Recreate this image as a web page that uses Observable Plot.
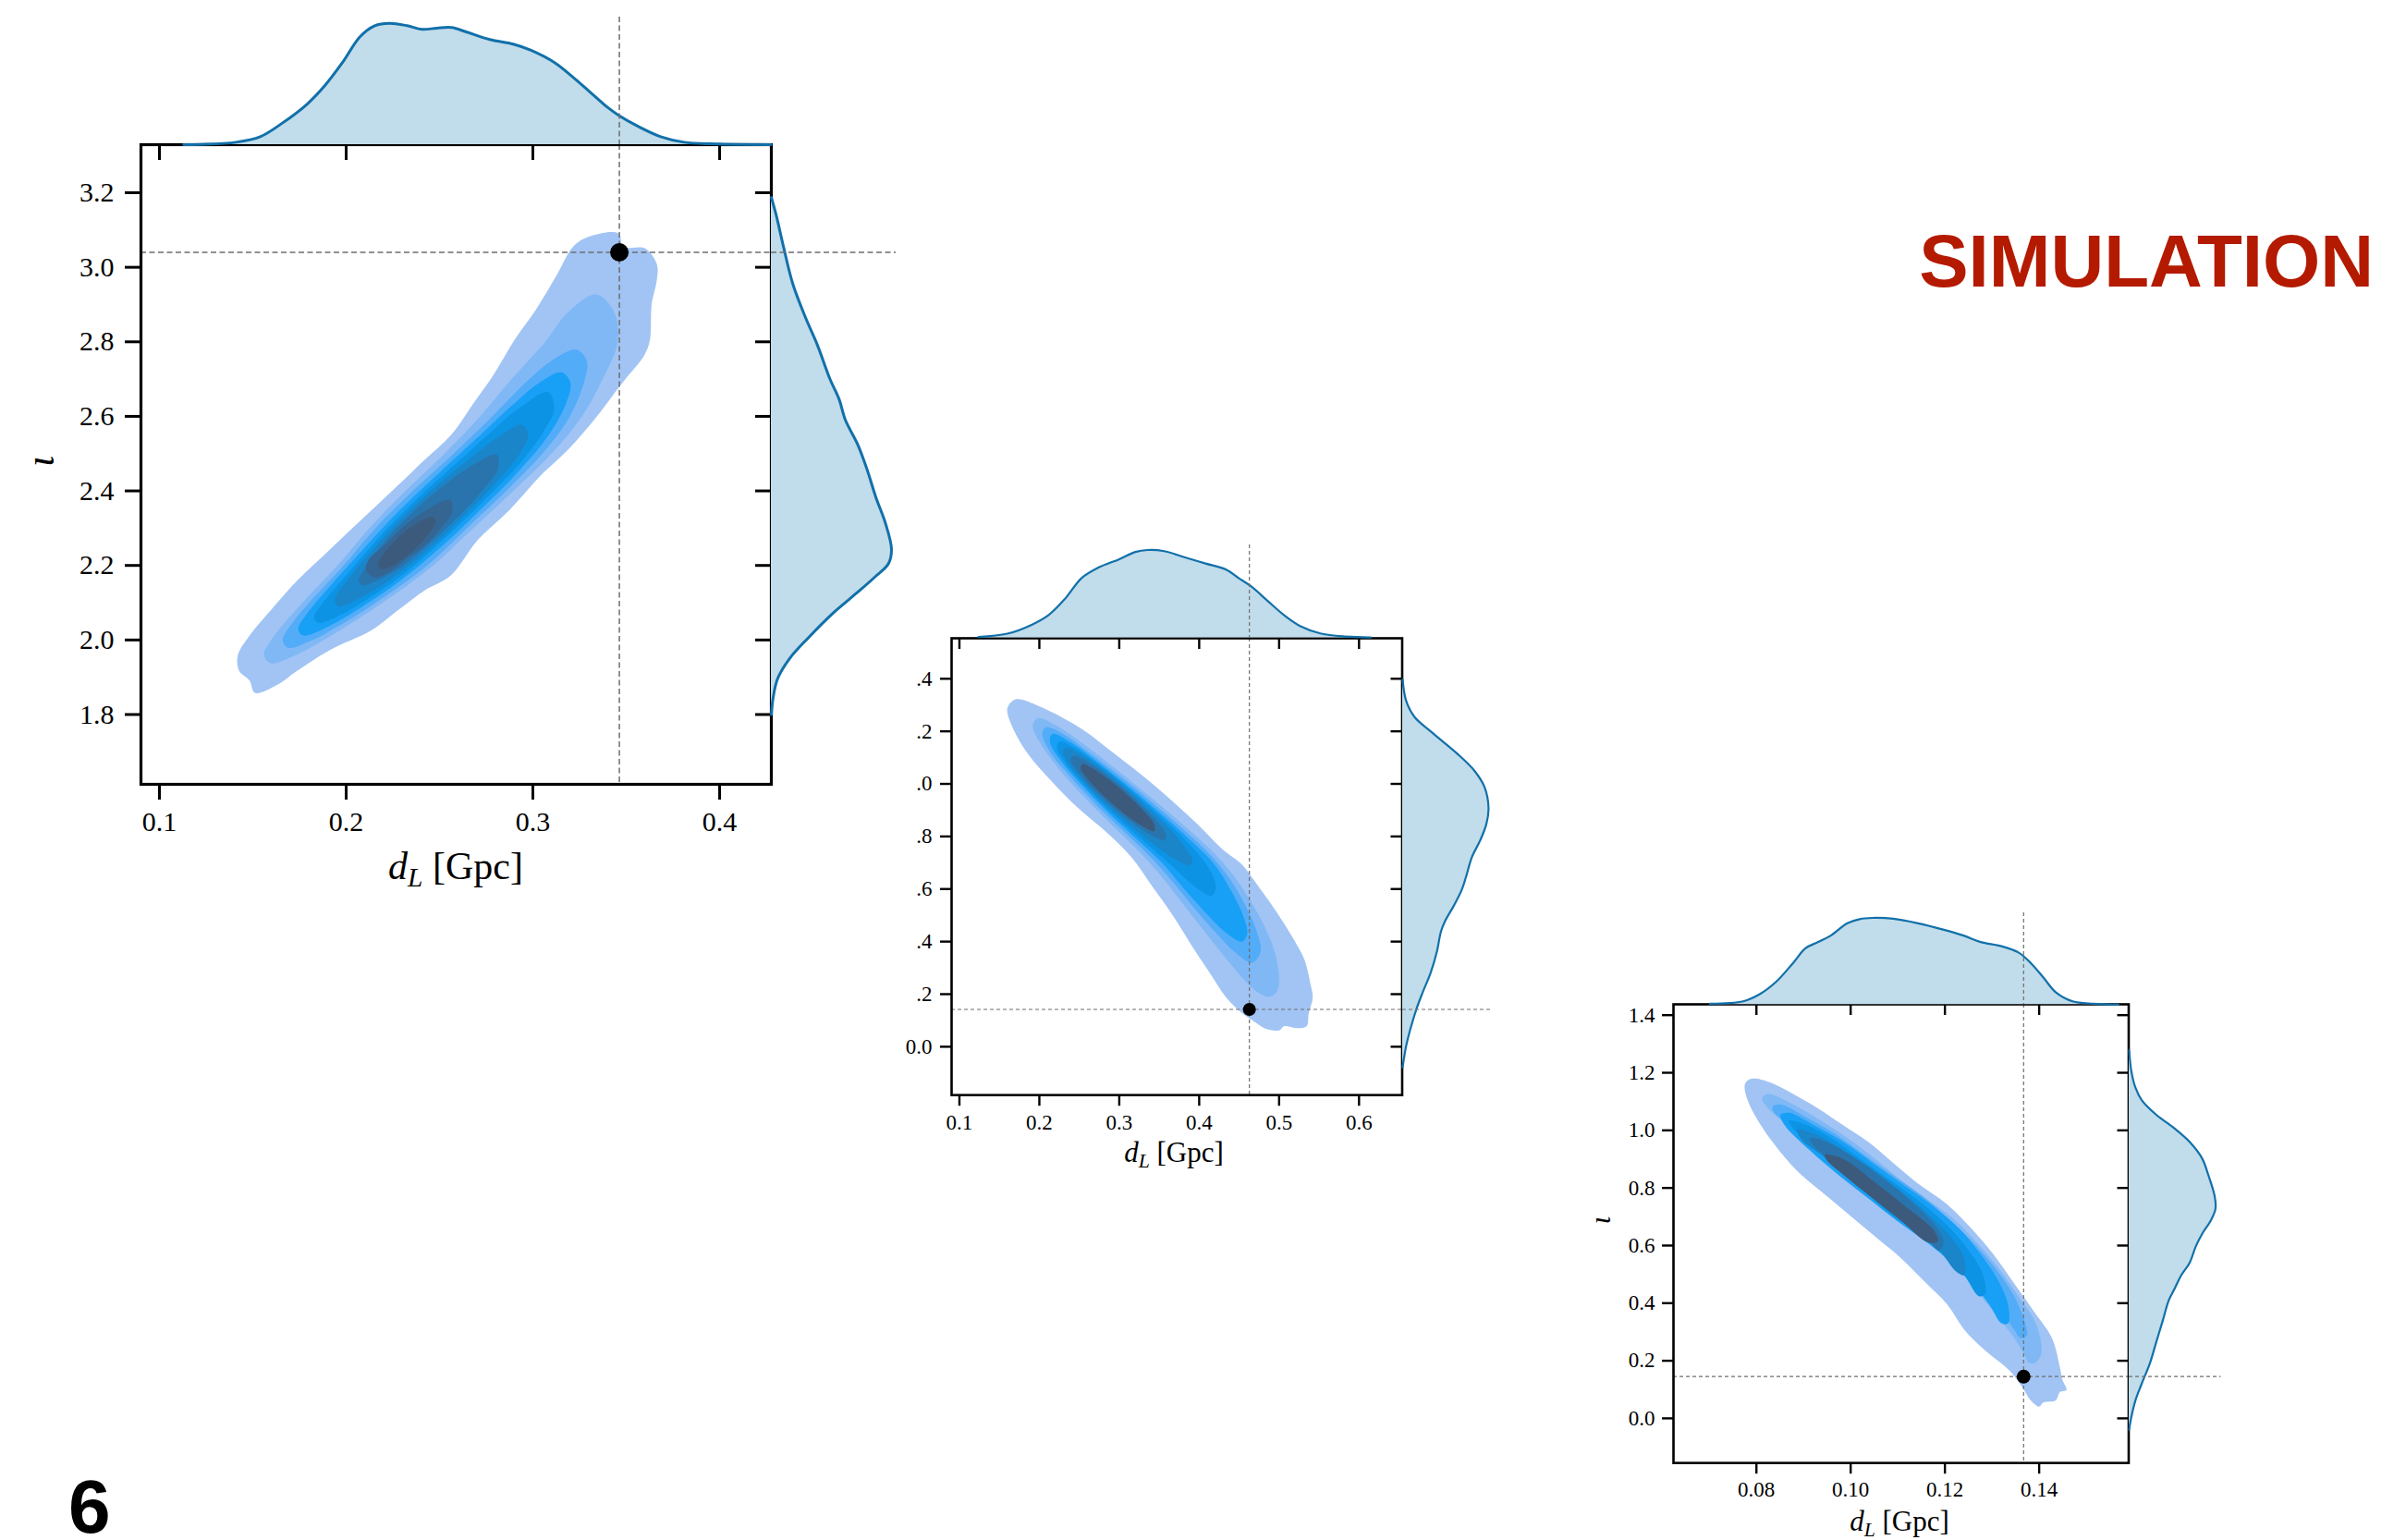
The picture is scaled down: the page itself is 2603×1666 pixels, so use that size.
<!DOCTYPE html>
<html><head><meta charset="utf-8">
<script src="https://cdn.jsdelivr.net/npm/d3@7"></script>
<script src="https://cdn.jsdelivr.net/npm/@observablehq/plot@0.6"></script>
<style>
html,body{margin:0;padding:0;background:#fff;}
#page{position:relative;width:2603px;height:1666px;overflow:hidden;background:#fff;}
#page svg{overflow:visible;}
</style></head><body><div id="page"></div>
<script>
// ---------------- DATA ----------------
// Panel 1
const p1_dL_ticks = [0.1, 0.2, 0.3, 0.4];
const p1_iota_ticks = [1.8, 2.0, 2.2, 2.4, 2.6, 2.8, 3.0, 3.2];
const p1_truth = [0.3463, 3.040];
const p1_dL_grid = [0.113,0.122,0.141,0.154,0.166,0.179,0.1885,0.198,0.2075,0.2153,0.2232,0.2327,0.2406,0.2485,0.2564,0.2643,0.2769,0.2895,0.299,0.3116,0.3211,0.3306,0.34,0.3463,0.3558,0.3684,0.381,0.4,0.4275];
const p1_dL_density = [0,0.002,0.02,0.066,0.18,0.333,0.485,0.676,0.891,0.98,1,0.98,0.95,0.96,0.965,0.929,0.866,0.828,0.777,0.676,0.561,0.434,0.307,0.238,0.155,0.066,0.02,0.005,0];
const p1_iota_grid = [3.187,3.143,3.054,2.955,2.867,2.79,2.701,2.646,2.591,2.525,2.459,2.381,2.315,2.243,2.205,2.172,2.128,2.072,2.006,1.951,1.896,1.841,1.8];
const p1_iota_density = [0,0.038,0.102,0.179,0.282,0.385,0.487,0.564,0.615,0.718,0.795,0.872,0.948,1,0.975,0.872,0.718,0.513,0.308,0.154,0.052,0.013,0];
const p1_contours = [
 [[0.1426,1.918],[0.1420,1.959],[0.1483,2.012],[0.1597,2.080],[0.1739,2.160],[0.1909,2.241],[0.2080,2.322],[0.2250,2.402],[0.2420,2.483],[0.2562,2.550],[0.2676,2.631],[0.2790,2.712],[0.2903,2.806],[0.3017,2.887],[0.3130,2.981],[0.3215,3.055],[0.3300,3.082],[0.3457,3.091],[0.3485,3.055],[0.3599,3.051],[0.3664,3.008],[0.3664,2.967],[0.3636,2.900],[0.3627,2.806],[0.3599,2.766],[0.3471,2.685],[0.3329,2.591],[0.3187,2.510],[0.3045,2.443],[0.2875,2.349],[0.2704,2.268],[0.2562,2.174],[0.2420,2.133],[0.2278,2.080],[0.2136,2.026],[0.1909,1.972],[0.1739,1.918],[0.1625,1.878],[0.1511,1.858],[0.1483,1.891]],
 [[0.1594,1.938],[0.1560,1.96],[0.1599,2.0],[0.1765,2.1],[0.1954,2.2],[0.2123,2.3],[0.2318,2.4],[0.2526,2.5],[0.2717,2.6],[0.2886,2.7],[0.3066,2.8],[0.3189,2.88],[0.334,2.927],[0.3435,2.88],[0.3454,2.8],[0.3374,2.7],[0.3263,2.6],[0.3100,2.5],[0.2896,2.4],[0.2681,2.3],[0.2466,2.2],[0.2195,2.1],[0.1881,2.0],[0.1732,1.96]],
 [[0.169,1.979],[0.166,2.0],[0.1718,2.05],[0.1801,2.1],[0.1986,2.2],[0.2157,2.3],[0.2357,2.4],[0.2575,2.5],[0.2782,2.6],[0.2981,2.7],[0.3102,2.75],[0.3233,2.779],[0.3288,2.75],[0.3279,2.7],[0.3198,2.6],[0.3051,2.5],[0.2857,2.4],[0.2647,2.3],[0.2434,2.2],[0.2159,2.1],[0.2002,2.05],[0.182,2.0]],
 [[0.1769,2.012],[0.1744,2.03],[0.179,2.07],[0.1924,2.15],[0.2103,2.25],[0.229,2.35],[0.2501,2.45],[0.2719,2.55],[0.289,2.63],[0.3033,2.69],[0.3153,2.718],[0.3201,2.69],[0.3174,2.63],[0.3085,2.55],[0.2919,2.45],[0.272,2.35],[0.2509,2.25],[0.2266,2.15],[0.2026,2.07],[0.188,2.03]],
 [[0.185,2.046],[0.1829,2.06],[0.1876,2.1],[0.2012,2.18],[0.2185,2.28],[0.2382,2.38],[0.2603,2.48],[0.278,2.56],[0.2922,2.62],[0.3081,2.665],[0.3114,2.62],[0.3058,2.56],[0.2941,2.48],[0.275,2.38],[0.2543,2.28],[0.2316,2.18],[0.2084,2.1],[0.1939,2.06]],
 [[0.1956,2.09],[0.194,2.11],[0.2006,2.16],[0.2138,2.24],[0.2304,2.33],[0.2498,2.42],[0.2696,2.5],[0.2829,2.55],[0.2943,2.577],[0.2975,2.55],[0.293,2.5],[0.2798,2.42],[0.2624,2.33],[0.2434,2.24],[0.223,2.16],[0.2066,2.11]],
 [[0.2089,2.147],[0.2067,2.16],[0.2113,2.2],[0.2199,2.26],[0.2329,2.33],[0.2486,2.4],[0.2648,2.46],[0.2807,2.497],[0.2814,2.46],[0.2728,2.4],[0.2599,2.33],[0.2451,2.26],[0.2307,2.2],[0.2169,2.16]],
 [[0.2150,2.168],[0.2105,2.19],[0.2128,2.22],[0.2197,2.25],[0.2298,2.3],[0.2403,2.34],[0.2558,2.376],[0.2565,2.34],[0.2506,2.3],[0.2415,2.25],[0.2326,2.22],[0.2255,2.19]],
 [[0.2187,2.19],[0.2171,2.2],[0.22,2.23],[0.225,2.26],[0.2314,2.29],[0.2387,2.315],[0.2464,2.33],[0.2479,2.315],[0.245,2.29],[0.24,2.26],[0.2336,2.23],[0.2249,2.2]]
];

// Panel 2
const p2_dL_ticks = [0.1, 0.2, 0.3, 0.4, 0.5, 0.6];
const p2_iota_ticks = [0.0, 0.2, 0.4, 0.6, 0.8, 1.0, 1.2, 1.4];
const p2_truth = [0.4628, 0.142];
const p2_dL_grid = [0.1237,0.16,0.191,0.2116,0.2323,0.2529,0.2736,0.2994,0.3201,0.3356,0.3563,0.3822,0.408,0.4338,0.4493,0.4648,0.4854,0.5061,0.5268,0.5527,0.5837,0.6146];
const p2_dL_density = [0.01,0.047,0.151,0.259,0.446,0.681,0.799,0.893,0.978,1,0.987,0.916,0.846,0.776,0.681,0.587,0.423,0.259,0.132,0.047,0.014,0.004];
const p2_iota_grid = [1.397,1.318,1.256,1.193,1.114,1.052,0.989,0.910,0.8475,0.785,0.722,0.643,0.596,0.5336,0.4786,0.439,0.361,0.2824,0.204,0.141,0.0627,0.0,-0.047,-0.078];
const p2_iota_density = [0,0.039,0.135,0.351,0.639,0.831,0.952,1,0.975,0.903,0.807,0.735,0.687,0.591,0.495,0.447,0.398,0.327,0.23,0.158,0.086,0.039,0.014,0];
const p2_contours = [
 [[0.1599,1.287],[0.1677,1.318],[0.1754,1.322],[0.2116,1.279],[0.2529,1.209],[0.2942,1.114],[0.3304,1.028],[0.3665,0.934],[0.3975,0.848],[0.4285,0.753],[0.4543,0.691],[0.4698,0.628],[0.4956,0.518],[0.5215,0.392],[0.5318,0.330],[0.5395,0.235],[0.5421,0.188],[0.5370,0.126],[0.5344,0.078],[0.5215,0.071],[0.5060,0.078],[0.5008,0.063],[0.4853,0.066],[0.4698,0.094],[0.4543,0.126],[0.4337,0.188],[0.4130,0.282],[0.3923,0.377],[0.3665,0.502],[0.3407,0.612],[0.3149,0.722],[0.2839,0.816],[0.2477,0.910],[0.2167,1.005],[0.1857,1.114],[0.1651,1.224]],
 [[0.198,1.25],[0.2225,1.22],[0.2559,1.15],[0.2983,1.05],[0.3389,0.95],[0.3778,0.85],[0.4142,0.75],[0.4433,0.65],[0.4651,0.55],[0.483,0.45],[0.4955,0.35],[0.5,0.25],[0.4971,0.21],[0.4874,0.19],[0.4721,0.21],[0.4576,0.25],[0.4297,0.35],[0.4038,0.45],[0.3779,0.55],[0.3521,0.65],[0.3224,0.75],[0.2886,0.85],[0.2561,0.95],[0.2263,1.05],[0.2021,1.15],[0.1919,1.22]],
 [[0.2083,1.216],[0.2298,1.19],[0.262,1.12],[0.3009,1.03],[0.341,0.93],[0.379,0.83],[0.414,0.73],[0.4402,0.63],[0.4591,0.53],[0.4731,0.43],[0.4768,0.36],[0.4661,0.32],[0.4446,0.36],[0.4219,0.43],[0.3931,0.53],[0.366,0.63],[0.3362,0.73],[0.3018,0.83],[0.2682,0.93],[0.2377,1.03],[0.2138,1.12],[0.2036,1.19]],
 [[0.2164,1.19],[0.2384,1.16],[0.2703,1.09],[0.308,1.0],[0.347,0.9],[0.3842,0.8],[0.4173,0.7],[0.4387,0.6],[0.4549,0.5],[0.4601,0.43],[0.4537,0.40],[0.4349,0.43],[0.4111,0.5],[0.3813,0.6],[0.3533,0.7],[0.3182,0.8],[0.2834,0.9],[0.2516,1.0],[0.2265,1.09],[0.2132,1.16]],
 [[0.2256,1.161],[0.2426,1.14],[0.2712,1.08],[0.3048,1.0],[0.3357,0.92],[0.3647,0.84],[0.3909,0.76],[0.4118,0.68],[0.4207,0.61],[0.4158,0.575],[0.3943,0.61],[0.3688,0.68],[0.3389,0.76],[0.3089,0.84],[0.2805,0.92],[0.2548,1.0],[0.2326,1.08],[0.2218,1.14]],
 [[0.2329,1.138],[0.248,1.12],[0.2771,1.06],[0.3098,0.98],[0.3392,0.9],[0.3658,0.82],[0.3868,0.74],[0.3918,0.71],[0.3878,0.69],[0.372,0.71],[0.3566,0.74],[0.3222,0.82],[0.2912,0.9],[0.264,0.98],[0.2407,1.06],[0.2292,1.12]],
 [[0.2427,1.107],[0.2574,1.09],[0.282,1.04],[0.3065,0.98],[0.3278,0.92],[0.3465,0.86],[0.3583,0.81],[0.3565,0.785],[0.3369,0.81],[0.3127,0.86],[0.2884,0.92],[0.2673,0.98],[0.2496,1.04],[0.2394,1.09]],
 [[0.2536,1.075],[0.2662,1.06],[0.2939,1.0],[0.313,0.95],[0.3296,0.9],[0.3432,0.85],[0.344,0.82],[0.3232,0.85],[0.3008,0.9],[0.282,0.95],[0.2657,1.0],[0.2516,1.06]]
];

// Panel 3
const p3_dL_ticks = [0.08, 0.10, 0.12, 0.14];
const p3_iota_ticks = [0.0, 0.2, 0.4, 0.6, 0.8, 1.0, 1.2, 1.4];
const p3_truth = [0.1367, 0.145];
const p3_dL_grid = [0.0701,0.0772,0.0807,0.0842,0.0878,0.0904,0.0931,0.0957,0.0993,0.1019,0.1046,0.109,0.1143,0.1196,0.1241,0.1276,0.132,0.1356,0.1382,0.1409,0.1435,0.1471,0.1515,0.1568];
const p3_dL_density = [0.01,0.038,0.12,0.264,0.481,0.649,0.722,0.793,0.938,0.986,1,0.99,0.938,0.866,0.793,0.722,0.673,0.601,0.481,0.312,0.144,0.038,0.01,0];
const p3_iota_grid = [1.278,1.206,1.148,1.105,1.054,1.011,0.960,0.902,0.844,0.772,0.728,0.685,0.641,0.598,0.540,0.497,0.453,0.410,0.337,0.265,0.193,0.120,0.0625,0.0045,-0.039];
const p3_iota_density = [0,0.025,0.073,0.145,0.314,0.507,0.7,0.846,0.918,0.99,1,0.942,0.846,0.773,0.7,0.604,0.531,0.459,0.387,0.314,0.242,0.145,0.073,0.025,0];
const p3_contours = [
 [[0.0776,1.1626],[0.0785,1.177],[0.0798,1.180],[0.0834,1.163],[0.0878,1.126],[0.0931,1.076],[0.0984,1.018],[0.1037,0.960],[0.1090,0.8875],[0.1143,0.815],[0.1205,0.743],[0.1258,0.656],[0.1303,0.569],[0.1347,0.468],[0.1391,0.366],[0.1427,0.279],[0.1444,0.178],[0.1449,0.135],[0.1458,0.098],[0.1444,0.091],[0.1435,0.062],[0.1409,0.055],[0.1400,0.041],[0.1382,0.062],[0.1365,0.106],[0.1338,0.164],[0.1285,0.236],[0.1241,0.308],[0.1205,0.395],[0.1161,0.468],[0.1108,0.5545],[0.1055,0.627],[0.1002,0.699],[0.0949,0.772],[0.0887,0.8585],[0.0834,0.960],[0.0789,1.076],[0.0776,1.134]],
 [[0.0812,1.112],[0.0825,1.126],[0.0878,1.090],[0.0931,1.0395],[0.0993,0.974],[0.1046,0.909],[0.1099,0.837],[0.1152,0.772],[0.1214,0.699],[0.1267,0.612],[0.1312,0.5256],[0.1356,0.424],[0.1391,0.337],[0.1404,0.265],[0.1404,0.2215],[0.1391,0.1925],[0.1378,0.1925],[0.1369,0.2215],[0.1347,0.279],[0.1320,0.337],[0.1276,0.424],[0.1232,0.511],[0.1179,0.598],[0.1126,0.670],[0.1064,0.743],[0.1002,0.830],[0.0940,0.916],[0.0878,1.003],[0.0825,1.076]],
 [[0.0834,1.083],[0.0851,1.090],[0.0904,1.047],[0.0966,0.989],[0.1028,0.916],[0.1090,0.844],[0.1152,0.772],[0.1214,0.685],[0.1267,0.598],[0.1312,0.511],[0.1347,0.424],[0.1369,0.337],[0.1374,0.287],[0.1360,0.279],[0.1347,0.308],[0.1320,0.366],[0.1276,0.453],[0.1232,0.540],[0.1179,0.612],[0.1117,0.685],[0.1055,0.757],[0.0993,0.844],[0.0931,0.931],[0.0869,1.018],[0.0838,1.061]],
 [[0.0851,1.054],[0.0869,1.061],[0.0922,1.018],[0.0984,0.960],[0.1046,0.8875],[0.1108,0.815],[0.1170,0.743],[0.1232,0.656],[0.1276,0.569],[0.1312,0.482],[0.1334,0.395],[0.1334,0.330],[0.1320,0.330],[0.1294,0.395],[0.1258,0.468],[0.1214,0.540],[0.1161,0.612],[0.1099,0.685],[0.1037,0.764],[0.0975,0.844],[0.0913,0.931],[0.0860,1.018]],
 [[0.0869,1.032],[0.0896,1.025],[0.0958,0.974],[0.1020,0.902],[0.1081,0.830],[0.1143,0.757],[0.1205,0.670],[0.1250,0.5835],[0.1281,0.497],[0.1285,0.431],[0.1272,0.424],[0.1241,0.497],[0.1197,0.569],[0.1143,0.641],[0.1081,0.714],[0.1020,0.801],[0.0958,0.8875],[0.0896,0.974]],
 [[0.0887,1.003],[0.0922,0.989],[0.0984,0.931],[0.1046,0.8585],[0.1108,0.786],[0.1161,0.714],[0.1214,0.627],[0.1241,0.5545],[0.1241,0.497],[0.1223,0.511],[0.1188,0.5835],[0.1135,0.656],[0.1073,0.728],[0.1011,0.815],[0.0949,0.902],[0.0896,0.967]],
 [[0.0913,0.974],[0.0949,0.960],[0.1011,0.902],[0.1073,0.830],[0.1126,0.757],[0.1179,0.670],[0.1197,0.612],[0.1188,0.5835],[0.1152,0.641],[0.1099,0.714],[0.1037,0.786],[0.0975,0.873],[0.0922,0.945]],
 [[0.0945,0.915],[0.0985,0.900],[0.1055,0.815],[0.1117,0.735],[0.1175,0.655],[0.1185,0.615],[0.1165,0.610],[0.1108,0.685],[0.1046,0.765],[0.0985,0.845],[0.0950,0.895]]
];

// ---------------- STYLES ----------------
const levelColors = ["#a1c4f4","#80b8f6","#53acf8","#17a0f6","#0c93e4","#1b85ca","#2a74ae","#356592","#3c5a7c"];
const colors8 = [levelColors[0],levelColors[1],levelColors[2],levelColors[3],levelColors[4],levelColors[5],levelColors[6],levelColors[8]];
const margFill = "#c1dcea", margStroke = "#1170aa", dashColor = "#6e6e6e";
const serif = "'Liberation Serif', 'DejaVu Serif', serif";

const panel1 = {contours: p1_contours, colors: levelColors, truth: p1_truth, xTicks: p1_dL_ticks, yTicks: p1_iota_ticks,
   xFmt: d3.format(".1f"), yFmt: d3.format(".1f"),
   frame: {left: 152, right: 834, top: 156, bottom: 848}, xDomain: [0.0901, 0.4277], yDomain: [1.6127, 3.329],
   margin: {l: 140, t: 10, r: 10, b: 100}, tick: 17, tickW: 3, pad: 12, font: 30, frameW: 3.2,
   dotR: 10, dashW: 1.5, dash: "6,3.5", lineW: 3,
   top: {x: p1_dL_grid, d: p1_dL_density, height: 138, peak: 131.3},
   right: {y: p1_iota_grid, d: p1_iota_density, width: 135, peak: 130}};
const panel2 = {contours: p2_contours, colors: colors8, truth: p2_truth, xTicks: p2_dL_ticks, yTicks: p2_iota_ticks,
   xFmt: d3.format(".1f"), yFmt: d3.format(".1f"),
   frame: {left: 1029, right: 1516.5, top: 689.5, bottom: 1183.7}, xDomain: [0.0902, 0.654], yDomain: [-0.184, 1.554],
   margin: {l: 60, t: 10, r: 10, b: 60}, tick: 12, tickW: 2.4, pad: 9, font: 23, frameW: 2.6,
   dotR: 7, dashW: 1.2, dash: "4,3", lineW: 2.2,
   top: {x: p2_dL_grid, d: p2_dL_density, height: 100.5, peak: 95},
   right: {y: p2_iota_grid, d: p2_iota_density, width: 97.5, peak: 92.9}};
const panel3 = {contours: p3_contours, colors: colors8, truth: p3_truth, xTicks: p3_dL_ticks, yTicks: p3_iota_ticks,
   xFmt: d3.format(".2f"), yFmt: d3.format(".1f"),
   frame: {left: 1810, right: 2302.5, top: 1086.3, bottom: 1582.5}, xDomain: [0.0624, 0.159], yDomain: [-0.155, 1.4376],
   margin: {l: 60, t: 10, r: 10, b: 60}, tick: 12, tickW: 2.4, pad: 8, font: 23, frameW: 2.6,
   dotR: 7.5, dashW: 1.2, dash: "4,3", lineW: 2.2,
   top: {x: p3_dL_grid, d: p3_dL_density, height: 99.3, peak: 93.8},
   right: {y: p3_iota_grid, d: p3_iota_density, width: 99.5, peak: 93.4}};

const page = document.getElementById("page");
function place(node, left, top) {
  node.style.position = "absolute";
  node.style.left = left + "px";
  node.style.top = top + "px";
  page.appendChild(node);
}
const baseStyle = (font) => ({background: "transparent", overflow: "visible", maxWidth: "none", fontFamily: serif, fontSize: font + "px", color: "#000"});

function drawPanel(P) {
  const fw = P.frame.right - P.frame.left, fh = P.frame.bottom - P.frame.top, m = P.margin;
  const dashOpts = {stroke: dashColor, strokeWidth: P.dashW, strokeDasharray: P.dash};
  const marks = [];
  P.contours.forEach((poly, i) => marks.push(Plot.line(poly, {x: d => d[0], y: d => d[1], curve: "catmull-rom-closed", fill: P.colors[i], stroke: "none"})));
  marks.push(Plot.ruleX([P.truth[0]], {x: d => d, ...dashOpts}));
  marks.push(Plot.ruleY([P.truth[1]], {y: d => d, ...dashOpts}));
  marks.push(Plot.dot([P.truth], {x: d => d[0], y: d => d[1], r: P.dotR, fill: "#000", stroke: "none"}));
  marks.push(Plot.axisX(P.xTicks, {anchor: "bottom", tickSize: P.tick, tickPadding: P.pad, strokeWidth: P.tickW, fontSize: P.font, tickFormat: P.xFmt, label: null}));
  marks.push(Plot.axisY(P.yTicks, {anchor: "left", tickSize: P.tick, tickPadding: P.pad, strokeWidth: P.tickW, fontSize: P.font, tickFormat: P.yFmt, label: null}));
  marks.push(Plot.tickX(P.xTicks, {x: d => d, insetBottom: fh - P.tick, stroke: "#000", strokeWidth: P.tickW}));
  marks.push(Plot.tickY(P.yTicks, {y: d => d, insetLeft: fw - P.tick, stroke: "#000", strokeWidth: P.tickW}));
  marks.push(Plot.frame({stroke: "#000", strokeWidth: P.frameW}));
  const main = Plot.plot({
    width: fw + m.l + m.r, height: fh + m.t + m.b,
    marginLeft: m.l, marginRight: m.r, marginTop: m.t, marginBottom: m.b,
    style: baseStyle(P.font),
    x: {domain: P.xDomain}, y: {domain: P.yDomain},
    marks
  });
  place(main, P.frame.left - m.l, P.frame.top - m.t);

  const topRows = P.top.x.map((x, i) => ({x, d: P.top.d[i]}));
  const topPlot = Plot.plot({
    width: fw, height: P.top.height, margin: 0, style: baseStyle(P.font),
    x: {domain: P.xDomain, axis: null}, y: {domain: [0, P.top.height / P.top.peak], axis: null},
    marks: [
      Plot.areaY(topRows, {x: "x", y: "d", fill: margFill, curve: "catmull-rom"}),
      Plot.lineY(topRows, {x: "x", y: "d", stroke: margStroke, strokeWidth: P.lineW, curve: "catmull-rom"}),
      Plot.ruleX([P.truth[0]], {x: d => d, ...dashOpts})
    ]
  });
  place(topPlot, P.frame.left, P.frame.top - P.top.height);

  const rightRows = P.right.y.map((y, i) => ({y, d: P.right.d[i]}));
  const rightPlot = Plot.plot({
    width: P.right.width, height: fh, margin: 0, style: baseStyle(P.font),
    x: {domain: [0, P.right.width / P.right.peak], axis: null}, y: {domain: P.yDomain, axis: null},
    marks: [
      Plot.areaX(rightRows, {y: "y", x: "d", fill: margFill, curve: "catmull-rom"}),
      Plot.lineX(rightRows, {y: "y", x: "d", stroke: margStroke, strokeWidth: P.lineW, curve: "catmull-rom"}),
      Plot.ruleY([P.truth[1]], {y: d => d, ...dashOpts})
    ]
  });
  place(rightPlot, P.frame.right, P.frame.top);
}

// panels 2 and 3 sit underneath the first figure's white canvas, which hides
// the leading digits of panel 2's upper tick labels, as in the reference
drawPanel(panel3);
drawPanel(panel2);
const canvas1 = document.createElement("div");
canvas1.style.background = "#fff"; canvas1.style.width = "990.5px"; canvas1.style.height = "1100px";
place(canvas1, 0, 0);
drawPanel(panel1);

// ---------------- TEXT LAYER ----------------
const layer = d3.select(page).append("svg").attr("width", 2603).attr("height", 1666)
  .style("position", "absolute").style("left", "0px").style("top", "0px").style("pointer-events", "none").style("overflow", "visible");

function dlLabel(cx, baseline, size) {
  const t = layer.append("text").attr("x", cx).attr("y", baseline).attr("text-anchor", "middle")
    .attr("font-family", serif).attr("font-size", size).attr("fill", "#000");
  t.append("tspan").attr("font-style", "italic").text("d");
  t.append("tspan").attr("font-style", "italic").attr("font-size", size * 0.7).attr("dy", size * 0.18).text("L");
  t.append("tspan").attr("dy", -size * 0.18).text(" [Gpc]");
}
function iotaLabel(cx, cy, size) {
  layer.append("text").attr("transform", `translate(${cx},${cy}) rotate(-90)`).attr("text-anchor", "middle")
    .attr("dominant-baseline", "middle").attr("font-family", serif).attr("font-style", "italic")
    .attr("font-size", size).attr("fill", "#000").text("ι");
}
dlLabel(493, 951, 42);
dlLabel(1270, 1257, 31);
dlLabel(2055, 1656, 31);
iotaLabel(48, 499, 44);
iotaLabel(1735, 1320, 32);

layer.append("text").attr("x", 2568).attr("y", 310).attr("text-anchor", "end")
  .attr("font-family", "'Liberation Sans', Arial, sans-serif").attr("font-weight", "bold")
  .attr("font-size", 80).attr("fill", "#b41a00").text("SIMULATION");
layer.append("text").attr("x", 74).attr("y", 1658)
  .attr("font-family", "'Liberation Sans', Arial, sans-serif").attr("font-weight", "bold")
  .attr("font-size", 82).attr("fill", "#000").text("6");
</script></body></html>
